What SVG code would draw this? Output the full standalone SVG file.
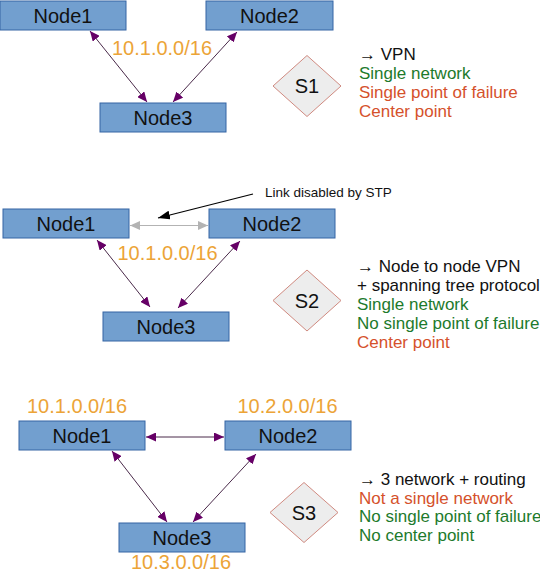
<svg xmlns="http://www.w3.org/2000/svg" width="540" height="573" viewBox="0 0 540 573">
<style>
.node rect{fill:#729fcf;stroke:#3465a4;stroke-width:1}
.node text{font-family:"Liberation Sans",Arial,sans-serif;font-size:20px;fill:#111;text-anchor:middle}
.net{font-family:"Liberation Sans",Arial,sans-serif;font-size:20px;fill:#eca437;text-anchor:middle}
.dia polygon{fill:#ededed;stroke:#d08a80;stroke-width:1}
.dia text{font-family:"Liberation Sans",Arial,sans-serif;font-size:20px;fill:#111;text-anchor:middle}
.info{font-family:"Liberation Sans",Arial,sans-serif;font-size:17px}
.k{fill:#111}.g{fill:#1d7a2c}.r{fill:#d5512b}
.link{stroke:#4a2a4a;stroke-width:1;fill:none;marker-start:url(#ap);marker-end:url(#ap)}
.note{font-family:"Liberation Sans",Arial,sans-serif;font-size:13.5px;fill:#111}
</style>
<defs>
<marker id="ap" markerUnits="userSpaceOnUse" viewBox="0 0 10 9" refX="10" refY="4.5" markerWidth="10" markerHeight="9" orient="auto-start-reverse"><path d="M0,0 L10,4.5 L0,9 z" fill="#660066"/></marker>
<marker id="ag" markerUnits="userSpaceOnUse" viewBox="0 0 10 9" refX="10" refY="4.5" markerWidth="10" markerHeight="9" orient="auto-start-reverse"><path d="M0,0 L10,4.5 L0,9 z" fill="#b3b3b3"/></marker>
<marker id="ab" markerUnits="userSpaceOnUse" viewBox="0 0 12 9" refX="12" refY="4.5" markerWidth="12" markerHeight="9" orient="auto"><path d="M0,0 L12,4.5 L0,9 z" fill="#000"/></marker>
</defs>
<g id="connectors">
<line class="link" x1="90" y1="31" x2="147" y2="102"/>
<line class="link" x1="237" y1="32" x2="173" y2="102"/>
<line class="link" x1="97" y1="240" x2="150" y2="307"/>
<line class="link" x1="240" y1="241" x2="178" y2="308"/>
<line x1="130" y1="225.5" x2="208" y2="225.5" stroke="#b3b3b3" stroke-width="1" marker-start="url(#ag)" marker-end="url(#ag)"/>
<line x1="253" y1="194" x2="158" y2="218" stroke="#000" stroke-width="1.2" marker-end="url(#ab)"/>
<line class="link" x1="146" y1="437" x2="224" y2="437"/>
<line class="link" x1="112" y1="451" x2="167" y2="522"/>
<line class="link" x1="256" y1="454" x2="193" y2="522"/>
</g>
<g id="s1-node1" class="node"><rect x="0" y="1" width="126" height="29"/><text x="63" y="22.5">Node1</text></g>
<g id="s1-node2" class="node"><rect x="206" y="1" width="127" height="29"/><text x="269.5" y="22.5">Node2</text></g>
<g id="s1-node3" class="node"><rect x="100" y="103" width="126" height="29"/><text x="163" y="124.5">Node3</text></g>
<text class="net" x="162" y="55">10.1.0.0/16</text>
<g id="s1" class="dia"><polygon points="307,55.5 341,86 307,116.5 273,86"/><text x="307" y="93">S1</text></g>
<text class="info" x="359">
<tspan class="k" x="359" y="60">→ VPN</tspan>
<tspan class="g" x="359" y="79">Single network</tspan>
<tspan class="r" x="359" y="98">Single point of failure</tspan>
<tspan class="r" x="359" y="117">Center point</tspan>
</text>
<g id="s2-node1" class="node"><rect x="3" y="209" width="126" height="29"/><text x="66" y="230.5">Node1</text></g>
<g id="s2-node2" class="node"><rect x="209" y="209" width="126" height="29"/><text x="272" y="230.5">Node2</text></g>
<g id="s2-node3" class="node"><rect x="103" y="312" width="126" height="29"/><text x="166" y="333.5">Node3</text></g>
<text class="net" x="167.5" y="260">10.1.0.0/16</text>
<text class="note" x="265" y="196.5">Link disabled by STP</text>
<g id="s2" class="dia"><polygon points="307,270 341,300.5 307,331 273,300.5"/><text x="307" y="307.5">S2</text></g>
<text class="info">
<tspan class="k" x="357" y="272">→ Node to node VPN</tspan>
<tspan class="k" x="357" y="291">+ spanning tree protocol</tspan>
<tspan class="g" x="357" y="310">Single network</tspan>
<tspan class="g" x="357" y="329">No single point of failure</tspan>
<tspan class="r" x="357" y="348">Center point</tspan>
</text>
<g id="s3-node1" class="node"><rect x="19" y="421" width="126" height="29"/><text x="82" y="442.5">Node1</text></g>
<g id="s3-node2" class="node"><rect x="225" y="421" width="126" height="29"/><text x="288" y="442.5">Node2</text></g>
<g id="s3-node3" class="node"><rect x="119" y="523" width="126" height="29"/><text x="182" y="544.5">Node3</text></g>
<text class="net" x="77" y="413">10.1.0.0/16</text>
<text class="net" x="287.5" y="413">10.2.0.0/16</text>
<text class="net" x="181" y="569">10.3.0.0/16</text>
<g id="s3" class="dia"><polygon points="304,482.5 338,512.5 304,542.5 270,512.5"/><text x="304" y="519.5">S3</text></g>
<text class="info">
<tspan class="k" x="359" y="485">→ 3 network + routing</tspan>
<tspan class="r" x="359" y="503.5">Not a single network</tspan>
<tspan class="g" x="359" y="522">No single point of failure</tspan>
<tspan class="g" x="359" y="541">No center point</tspan>
</text>
</svg>
